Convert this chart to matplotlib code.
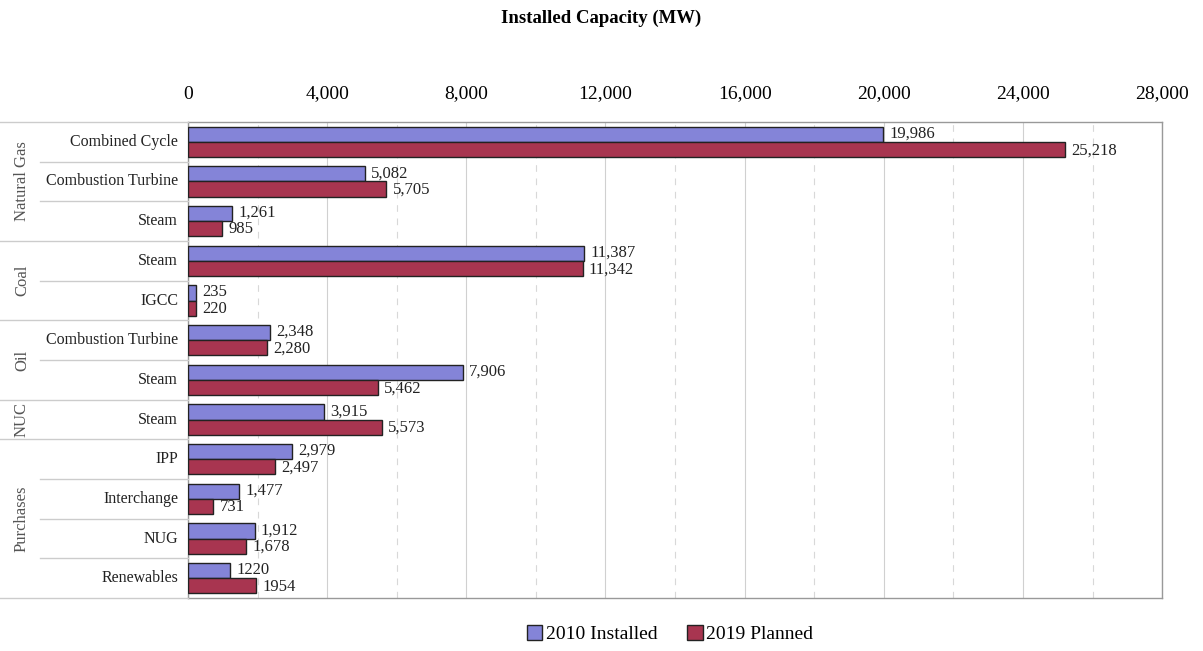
import numpy as np
import matplotlib.pyplot as plt
from matplotlib.patches import Patch
from matplotlib.lines import Line2D

plt.rcParams['font.family'] = ['Liberation Serif', 'DejaVu Serif']

groups = ["Natural Gas", "Coal", "Oil", "NUC", "Purchases"]
group_sizes = [3, 2, 2, 1, 4]
categories = ["Combined Cycle", "Combustion Turbine", "Steam",
              "Steam", "IGCC",
              "Combustion Turbine", "Steam",
              "Steam",
              "IPP", "Interchange", "NUG", "Renewables"]
installed_2010 = [19986, 5082, 1261, 11387, 235, 2348, 7906, 3915, 2979, 1477, 1912, 1220]
planned_2019 = [25218, 5705, 985, 11342, 220, 2280, 5462, 5573, 2497, 731, 1678, 1954]
labels_2010 = ["19,986", "5,082", "1,261", "11,387", "235", "2,348", "7,906",
               "3,915", "2,979", "1,477", "1,912", "1220"]
labels_2019 = ["25,218", "5,705", "985", "11,342", "220", "2,280", "5,462",
               "5,573", "2,497", "731", "1,678", "1954"]
series_names = ["2010 Installed", "2019 Planned"]

blue = "#8484d8"
red = "#a83550"

fig = plt.figure(figsize=(12.03, 6.51), dpi=100)
ax = fig.add_axes([0.1563, 0.0814, 0.8097, 0.7312])

n = len(categories)
y = np.arange(n)
h = 0.38
ax.barh(y - h / 2, installed_2010, height=h, color=blue, edgecolor="#222222", linewidth=1.0, zorder=3)
ax.barh(y + h / 2, planned_2019, height=h, color=red, edgecolor="#222222", linewidth=1.0, zorder=3)

for i in range(n):
    ax.text(installed_2010[i] + 180, y[i] - h / 2 - 0.02, labels_2010[i], va="center", ha="left",
            fontsize=12, color="#222222", zorder=4)
    ax.text(planned_2019[i] + 180, y[i] + h / 2 + 0.02, labels_2019[i], va="center", ha="left",
            fontsize=12, color="#222222", zorder=4)

ax.set_xlim(0, 28000)
ax.set_ylim(n - 0.5, -0.5)
ax.set_xticks(np.arange(0, 28001, 4000))
ax.set_xticklabels([f"{v:,}" for v in range(0, 28001, 4000)], fontsize=14)
ax.xaxis.tick_top()
ax.tick_params(axis="x", length=0, pad=14)
ax.set_xticks(np.arange(2000, 28000, 4000), minor=True)
ax.tick_params(axis="x", which="minor", length=0)
ax.grid(axis="x", which="major", color="#d0d0d0", linewidth=0.8, zorder=0)
ax.grid(axis="x", which="minor", color="#d8d8d8", linewidth=0.8, linestyle=(0, (6, 6)), zorder=0)
ax.set_yticks([])
for s in ax.spines.values():
    s.set_color("#999999")
    s.set_linewidth(1.0)

# category labels and separators in the left margin
to_fig = ax.transData + fig.transFigure.inverted()
for i, c in enumerate(categories):
    _, fy = to_fig.transform((0, y[i]))
    fig.text(178 / 1203, fy, c, ha="right", va="center", fontsize=11.5, color="#222222")

bounds = np.cumsum([0] + group_sizes)
for b in range(n + 1):
    _, fy = to_fig.transform((0, b - 0.5))
    x0 = 0.0 if b in bounds else 40 / 1203
    fig.add_artist(Line2D([x0, 188 / 1203], [fy, fy], color="#cccccc", linewidth=1.0))

for g, start, size in zip(groups, bounds[:-1], group_sizes):
    _, fy = to_fig.transform((0, start - 0.5 + size / 2))
    fig.text(22 / 1203, fy, g, ha="center", va="center", rotation=90, fontsize=12, color="#555555")

fig.text(0.5, 1 - 18 / 651, "Installed Capacity (MW)", ha="center", va="center",
         fontsize=13.5, fontweight="bold")

handles = [Patch(facecolor=blue, edgecolor="#222222"), Patch(facecolor=red, edgecolor="#222222")]
fig.legend(handles, series_names, loc="center", bbox_to_anchor=(0.557, 1 - 634 / 651), ncol=2,
           frameon=False, fontsize=14, handlelength=0.8, handleheight=0.8, handletextpad=0.2,
           columnspacing=1.5)

fig.savefig("out.png", dpi=100)
